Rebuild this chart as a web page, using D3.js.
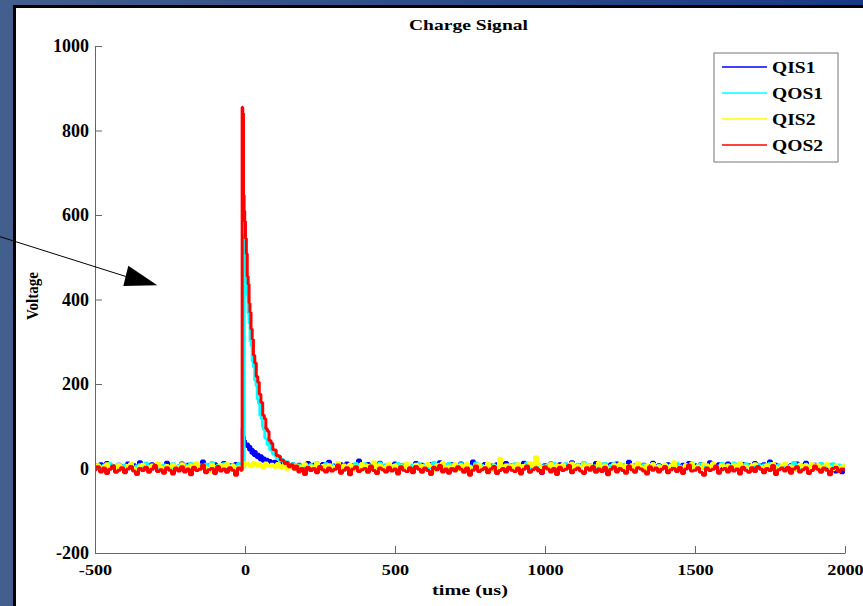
<!DOCTYPE html>
<html>
<head>
<meta charset="utf-8">
<script src="https://cdn.jsdelivr.net/npm/d3@7"></script>
<style>
  body { margin: 0; }
  svg { display: block; }
  text { font-family: "Liberation Serif", "Times New Roman", serif; font-weight: bold; fill: #000; }
</style>
</head>
<body>
<svg id="chart" width="863" height="606"></svg>
<script>
// sample times of the scope trace (us)
const times = d3.range(-500, 2001, 10);

const seriesNames = ['QIS1', 'QOS1', 'QIS2', 'QOS2'];
const seriesColors = ['#0000ff', '#00ffff', '#ffff00', '#ff0000'];

const xTicks = [-500, 0, 500, 1000, 1500, 2000];
const yTicks = [-200, 0, 200, 400, 600, 800, 1000];

// baseline readings, one per sample time
const qis1Base = [
  8, 2, 11, 5, 14, 3, 7, 0, 10, 6,
  4, 13, 1, 9, 6, 16, 3, 8, -1, 11,
  5, 12, 2, 7, 15, 4, 9, 1, 6, 13,
  3, 10, 7, 0, 12, 5, 18, 2, 8, 4,
  11, 6, 1, 14, 3, 9, 5, 12, 0, 7,
  10, 4, 16, 2, 8, 6, 13, 1, 9, 5,
  3, 12, 7, -2, 11, 4, 15, 6, 1, 9,
  5, 14, 2, 10, 7, 0, 12, 4, 17, 3,
  8, 1, 11, 6, 13, 2, 9, 5, 20, 4,
  7, 12, 0, 10, 3, 15, 6, 1, 9, 5,
  13, 2, 8, 4, 11, -1, 7, 14, 3, 10,
  6, 1, 12, 5, 9, 16, 2, 8, 4, 11,
  0, 7, 13, 3, 10, 5, 18, 1, 9, 6,
  12, 4, 8, -3, 11, 6, 2, 14, 5, 9,
  3, 10, 7, 15, 1, 8, 4, 12, 6, -12,
  9, 5, 13, 2, 7, 11, 0, 10, 4, 16,
  6, 1, 9, 12, 3, 8, 5, 14, 2, 10,
  7, 4, 11, 0, 13, 6, 9, 2, 17, 5,
  8, 12, 3, 10, 1, 7, 15, 4, 9, 6,
  2, 11, 5, 13, 8, 0, 10, 6, 14, 3,
  9, 4, 12, 7, 1, 16, 5, 8, 11, 2,
  6, 13, 3, 10, 7, -1, 12, 4, 9, 5,
  14, 2, 8, 11, 6, 18, 3, 10, 1, 7,
  12, 5, 9, 0, 13, 4, 8, 15, 2, 6,
  10, 3, 11, 7, 1, 9, 5, -8, 4, -10,
  6
];
const qos1Base = [
  5, 9, 1, 7, 3, 12, 0, 6, 10, 2,
  8, 4, 11, -2, 6, 9, 3, 13, 1, 7,
  4, 10, 2, 8, 5, -1, 11, 3, 7, 0,
  9, 6, 12, 2, 5, 8, 1, 10, 4, 14,
  3, 7, 0, 11, 6, 2, 9, 4, 12, 1,
  8, 5, 10, -3, 7, 3, 13, 6, 0, 9,
  4, 11, 2, 8, 5, 12, 1, 7, 3, 10,
  6, 0, 9, 4, 14, 2, 7, 11, 3, 8,
  1, 10, 5, 7, -2, 9, 4, 12, 6, 2,
  11, 3, 8, 0, 6, 13, 5, 9, 1, 7,
  4, 12, 2, 10, 6, -1, 8, 3, 11, 5,
  9, 1, 7, 14, 4, 10, 0, 6, 12, 3,
  8, 5, 11, 2, 9, 6, 1, 13, 4, 7,
  0, 10, 5, 8, 3, 12, 6, -2, 9, 4,
  11, 2, 7, 5, 13, 1, 8, 4, 10, 6,
  3, 9, 0, 12, 5, 7, 2, 11, 6, 8,
  1, 10, 4, 14, 3, 8, 6, 0, 9, 5,
  12, 2, 7, 11, 4, -1, 10, 6, 3, 8,
  5, 13, 1, 9, 6, 2, 11, 4, 7, 0,
  10, 3, 8, 5, 12, 6, 1, 9, 4, 13,
  2, 7, 11, 0, 8, 5, 10, 3, 6, 12,
  4, 9, 1, 13, 6, 2, 8, 11, 5, 7,
  0, 10, 4, 8, 3, 12, 6, 1, 9, 5,
  11, 2, 7, 14, 4, 8, 0, 10, 6, 3,
  9, 5, 12, 1, 7, 4, 11, 2, 8, 6,
  4
];
const qis2Base = [
  2, 8, -3, 5, 11, 0, 6, -5, 9, 3,
  -1, 7, 12, 1, -4, 6, 10, -2, 4, 8,
  0, 13, 3, -6, 7, 2, 9, -1, 5, 11,
  -3, 4, 8, 1, 14, -2, 6, 3, -7, 10,
  5, -1, 9, 2, 12, -4, 7, 0, 4, 11,
  -2, 6, 1, 15, 3, -5, 8, 2, 10, -1,
  4, 9, -3, 7, 0, 12, 5, -6, 8, 2,
  11, -1, 6, 3, 13, -4, 7, 1, 9, 0,
  5, 14, -2, 8, 3, 10, -5, 6, 2, 12,
  -1, 7, 4, 16, 0, 9, -3, 5, 11, 2,
  8, -4, 6, 1, 13, 3, -2, 10, 4, 7,
  0, 12, 5, -6, 9, 2, 15, -1, 6, 3,
  11, -3, 8, 1, 12, 4, -2, 7, 10, 0,
  5, 13, -4, 6, 2, 24, -1, 8, 3, 8,
  -2, 11, 4, 7, 0, 14, 5, 28, 9, 2,
  6, -1, 12, 3, 8, -3, 10, 1, 5, 13,
  -2, 7, 4, 11, 0, 9, -4, 6, 15, 2,
  8, 1, -3, 10, 5, 12, -1, 7, 3, 9,
  0, 14, 4, -5, 8, 2, 11, -2, 6, 3,
  10, -1, 7, 16, 1, 5, -4, 9, 3, 12,
  -2, 6, 2, 11, 8, -3, 13, 0, 5, 9,
  1, 7, -4, 10, 4, 14, -1, 6, 3, 8,
  11, 0, 5, -3, 9, 2, 12, 4, -2, 7,
  13, 1, 6, 3, -5, 10, 2, 8, 0, 11,
  4, 9, -1, 6, 12, 3, -3, 7, 1, 5,
  8
];
const qos2Base = [
  -3, 4, -8, 1, -12, -2, 6, -9, -4, 2,
  -10, -1, 5, -6, -14, 0, -5, 3, -9, -2,
  7, -7, -3, -11, 2, -4, -13, 1, -6, 4,
  -8, -1, -15, 3, -5, -2, 8, -10, -3, 0,
  -12, 5, -6, -1, -9, 2, -4, -16, 1, -7,
  3, -2, -11, 6, -5, -8, 0, -3, -13, 4,
  -6, 1, -9, -2, 7, -12, -4, 2, -7, -1,
  -14, 3, -5, 0, -10, 5, -3, -8, 1, -6,
  -2, 8, -11, -4, 2, -15, -1, 4, -7, -3,
  0, -9, 6, -5, -12, 1, -3, -8, 3, -6,
  -1, -13, 4, -4, -7, 2, -10, 5, -2, -9,
  1, -5, -14, 3, -3, 7, -8, -1, -11, 0,
  -6, 4, -2, -9, 1, -16, -4, 6, -7, -3,
  2, -10, -1, 5, -12, -5, 0, -8, 3, -4,
  -7, 1, -13, -2, 6, -9, -3, 2, -6, -11,
  4, -1, -8, 0, -14, 3, -5, -2, 7, -10,
  -3, 1, -6, -12, 2, -4, 5, -9, -1, -7,
  3, -15, -2, 4, -8, 0, -5, -11, 6, -3,
  -9, 2, -1, -6, -13, 4, -4, 1, -8, -2,
  5, -10, -3, 0, -7, 3, -12, -1, 8, -6,
  -4, 2, -9, -16, 1, -5, -2, 6, -11, -3,
  0, -8, 4, -6, -1, -13, 3, -4, -9, 2,
  -7, 5, -2, -10, 0, -5, 7, -14, -3, 1,
  -6, 3, -11, -1, 4, -8, -3, 2, -12, -5,
  6, -2, -9, 1, -4, -15, 0, 3, -7, -1,
  -3
];

// pulse around the trigger, read at finer time steps
const qis1PulseT = [-10, -8, -6, -3, 0, 3, 6, 10, 14, 18, 22, 26, 30, 35, 40, 45, 50, 55, 60, 65, 70, 75, 80, 85, 90, 100, 110, 120, 130, 140, 150, 160, 170, 180, 190];
const qis1PulseV = [6, 95, 88, 75, 66, 60, 52, 58, 44, 52, 36, 45, 31, 40, 26, 34, 21, 30, 17, 25, 14, 22, 12, 19, 10, 17, 8, 15, 6, 13, 4, 11, 2, 10, 5];

const qos1PulseT = [-10, -4, -2, 0, 3, 6, 9, 12, 15, 19, 22, 26, 30, 35, 39, 43, 47, 52, 56, 60, 64, 68, 72, 76, 80, 85, 89, 95, 100, 105, 111, 118, 125, 132, 140, 150, 160, 170, 180, 190];
const qos1PulseV = [3, 2, 551, 528, 492, 442, 410, 368, 344, 302, 290, 254, 240, 208, 196, 164, 154, 126, 118, 98, 92, 72, 70, 56, 58, 44, 46, 34, 37, 26, 30, 18, 22, 11, 16, 6, 11, 2, 8, 3];

const qis2PulseT = [-10, -3, 0, 10, 20, 30, 40, 50, 60, 70, 80, 90, 100, 110, 120, 130, 140, 150, 160, 170, 180, 190];
const qis2PulseV = [-2, 14, 8, 12, 4, 15, 6, 11, 2, 13, 5, 10, 3, 12, 1, 9, -2, 7, 0, 8, 3, 6];

const qos2PulseT = [-10, -9, -6, -4, -2, 0, 3, 6, 9, 12, 15, 18, 22, 26, 30, 35, 40, 45, 50, 56, 62, 67, 72, 77, 83, 90, 95, 100, 108, 115, 121, 127, 134, 140, 148, 157, 165, 172, 180, 190];
const qos2PulseV = [-4, 855, 840, 646, 610, 585, 545, 508, 455, 436, 392, 370, 330, 306, 268, 250, 218, 204, 176, 156, 126, 118, 94, 88, 66, 60, 45, 44, 31, 29, 20, 19, 12, 14, 4, 9, -2, 6, -8, 0];

function buildSeries(base, pulseT, pulseV) {
  const first = pulseT[0];
  const last = pulseT[pulseT.length - 1];
  const pts = [];
  times.forEach((t, i) => { if (t < first) pts.push([t, base[i]]); });
  pulseT.forEach((t, i) => pts.push([t, pulseV[i]]));
  times.forEach((t, i) => { if (t > last) pts.push([t, base[i]]); });
  return pts;
}

const series = [
  buildSeries(qis1Base, qis1PulseT, qis1PulseV),
  buildSeries(qos1Base, qos1PulseT, qos1PulseV),
  buildSeries(qis2Base, qis2PulseT, qis2PulseV),
  buildSeries(qos2Base, qos2PulseT, qos2PulseV)
];

const width = 863;
const height = 606;
const plot = { left: 95, right: 845, top: 46, bottom: 553 };

const svg = d3.select('#chart');

// slide background and white panel
const grad = svg.append('defs').append('linearGradient')
  .attr('id', 'bg')
  .attr('x1', 0).attr('x2', 1).attr('y1', 0).attr('y2', 0);
grad.append('stop').attr('offset', '0%').attr('stop-color', '#435f8d');
grad.append('stop').attr('offset', '100%').attr('stop-color', '#173984');

svg.append('rect').attr('width', width).attr('height', height).attr('fill', 'url(#bg)');
svg.append('rect').attr('x', 13).attr('y', 5).attr('width', width - 13).attr('height', height - 5).attr('fill', '#000');
svg.append('rect').attr('x', 16).attr('y', 8).attr('width', width - 16).attr('height', height - 8).attr('fill', '#fff');

const x = d3.scaleLinear().domain([-500, 2000]).range([plot.left, plot.right]);
const y = d3.scaleLinear().domain([-200, 1000]).range([plot.bottom, plot.top]);

// traces
const line = d3.line()
  .x((d) => x(d[0]))
  .y((d) => y(d[1]))
  .curve(d3.curveStep);
svg.append('g')
  .selectAll('path')
  .data(series)
  .enter()
  .append('path')
  .attr('d', line)
  .attr('fill', 'none')
  .attr('stroke', (d, i) => seriesColors[i])
  .attr('stroke-width', 3)
  .attr('stroke-linejoin', 'bevel');

// axes
const bottomAxis = d3.axisBottom(x)
  .tickValues(xTicks)
  .tickFormat((d) => String(d))
  .tickSizeInner(-7)
  .tickSizeOuter(0);
const gx = svg.append('g')
  .attr('transform', `translate(0, ${plot.bottom})`)
  .call(bottomAxis);
gx.selectAll('.domain, .tick line').attr('stroke', '#666');
gx.selectAll('.tick text')
  .attr('y', 22)
  .attr('dy', null)
  .attr('font-size', 14)
  .attr('transform', 'scale(1.3,1)');

const leftAxis = d3.axisLeft(y)
  .tickValues(yTicks)
  .tickFormat((d) => String(d))
  .tickSizeInner(-7)
  .tickSizeOuter(0);
const gy = svg.append('g')
  .attr('transform', `translate(${plot.left}, 0)`)
  .call(leftAxis);
gy.selectAll('.domain, .tick line').attr('stroke', '#666');
gy.selectAll('.tick text')
  .attr('x', -6)
  .attr('font-size', 18);

// titles
svg.append('text')
  .text('Charge Signal')
  .attr('x', 409).attr('y', 30)
  .attr('font-size', 15)
  .attr('textLength', 119)
  .attr('lengthAdjust', 'spacingAndGlyphs');

svg.append('text')
  .text('time (us)')
  .attr('x', 432).attr('y', 595)
  .attr('font-size', 15)
  .attr('textLength', 76)
  .attr('lengthAdjust', 'spacingAndGlyphs');

svg.append('text')
  .text('Voltage')
  .attr('transform', 'translate(38, 320) rotate(-90)')
  .attr('font-size', 17)
  .attr('textLength', 48)
  .attr('lengthAdjust', 'spacingAndGlyphs');

// legend
const legend = svg.append('g');
legend.append('rect')
  .attr('x', 714).attr('y', 53).attr('width', 124).attr('height', 109)
  .attr('fill', '#fff').attr('stroke', '#777').attr('stroke-width', 1);
const items = legend.selectAll('g.item')
  .data(seriesNames)
  .enter()
  .append('g')
  .attr('class', 'item')
  .attr('transform', (d, i) => `translate(0, ${67 + i * 26})`);
items.append('line')
  .attr('x1', 722).attr('x2', 767)
  .attr('stroke', (d, i) => seriesColors[i])
  .attr('stroke-width', 1.5);
items.append('text')
  .text((d) => d)
  .attr('transform', 'translate(772, 6) scale(1.15,1)')
  .attr('font-size', 17);

// annotation arrow coming in from the left
svg.append('line')
  .attr('x1', 0).attr('y1', 236.7)
  .attr('x2', 130).attr('y2', 277.8)
  .attr('stroke', '#000').attr('stroke-width', 1);
svg.append('path')
  .attr('d', 'M128.3,265.7 L157.3,285.3 L123.3,286 Z')
  .attr('fill', '#000');
</script>
</body>
</html>
